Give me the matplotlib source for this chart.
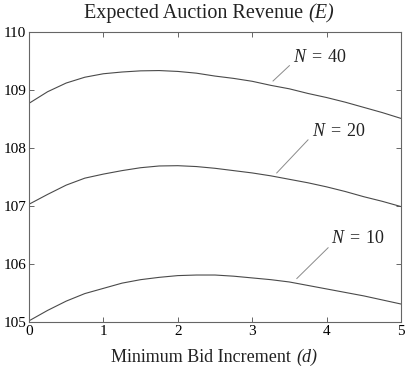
import numpy as np
import matplotlib
matplotlib.use("Agg")
import matplotlib.pyplot as plt

plt.rcParams['font.family'] = ['Liberation Serif', 'DejaVu Serif']
plt.rcParams['mathtext.fontset'] = 'custom'
plt.rcParams['mathtext.rm'] = 'Liberation Serif'
plt.rcParams['mathtext.it'] = 'Liberation Serif:italic'

# ---- data ----
d = [0, 0.25, 0.5, 0.75, 1.0, 1.25, 1.5, 1.75, 2.0, 2.25, 2.5,
     2.75, 3.0, 3.25, 3.5, 3.75, 4.0, 4.25, 4.5, 4.75, 5.0]
rev_n40 = [108.77, 108.97, 109.12, 109.22, 109.28, 109.31, 109.33, 109.335, 109.32, 109.29, 109.24,
           109.20, 109.15, 109.08, 109.02, 108.94, 108.87, 108.79, 108.70, 108.61, 108.51]
rev_n20 = [107.03, 107.20, 107.36, 107.48, 107.55, 107.61, 107.66, 107.69, 107.695, 107.68, 107.65,
           107.61, 107.57, 107.52, 107.46, 107.40, 107.33, 107.25, 107.16, 107.08, 106.99]
rev_n10 = [105.02, 105.20, 105.36, 105.49, 105.58, 105.67, 105.73, 105.77, 105.80, 105.81, 105.81,
           105.79, 105.76, 105.73, 105.69, 105.63, 105.57, 105.51, 105.45, 105.38, 105.31]

labels = [r'$N\;=\;40$', r'$N\;=\;20$', r'$N\;=\;10$']
# leader line start, leader line end, text baseline anchor
label_pts = [((3.28, 109.155), (3.50, 109.42), (3.55, 109.48)),
             ((3.33, 107.57), (3.75, 108.14), (3.81, 108.20)),
             ((3.60, 105.75), (4.02, 106.28), (4.06, 106.36))]

fig = plt.figure(figsize=(4.06, 3.66), dpi=100)
ax = fig.add_axes([0.0714, 0.1202, 0.9163, 0.7924])

for ys in (rev_n40, rev_n20, rev_n10):
    ax.plot(d, ys, color='#4a4a4a', lw=0.8)

for lab, (p0, p1, pt) in zip(labels, label_pts):
    ax.plot([p0[0], p1[0]], [p0[1], p1[1]], color='#8a8a8a', lw=0.7)
    ax.text(pt[0], pt[1], lab, fontsize=13, ha='left', va='baseline', color='#222222')

ax.set_xlim(0, 5)
ax.set_ylim(105, 110)
ax.set_xticks([0, 1, 2, 3, 4, 5])
ax.set_yticks([105, 106, 107, 108, 109, 110])
ax.tick_params(direction='in', top=True, right=True, length=3.5, width=0.7,
               color='#666666', labelsize=11, pad=2)
for s in ax.spines.values():
    s.set_color('#666666')
    s.set_linewidth(0.8)

# title and x label: roman part + italic symbol in parentheses
W, H = 406, 366
fig.text(303 / W, 1 - 18 / H, 'Expected Auction Revenue', fontsize=14.5,
         ha='right', va='baseline', color='#222222')
fig.text(308 / W, 1 - 18 / H, '(E)', fontsize=14.5, style='italic',
         ha='left', va='baseline', color='#222222')
fig.text(291 / W, 1 - 362 / H, 'Minimum Bid Increment', fontsize=13,
         ha='right', va='baseline', color='#222222')
fig.text(296 / W, 1 - 362 / H, '(d)', fontsize=13, style='italic',
         ha='left', va='baseline', color='#222222')

fig.savefig('out.png', dpi=100)
